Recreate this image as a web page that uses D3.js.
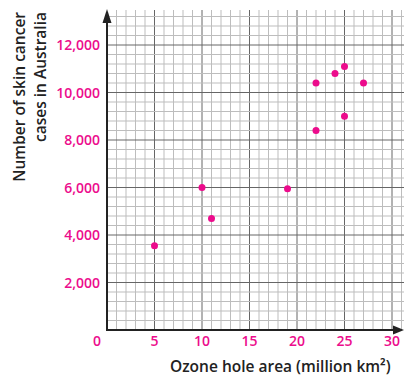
<!DOCTYPE html>
<html><head><meta charset="utf-8">
<script src="https://cdn.jsdelivr.net/npm/d3@7"></script>
<style>
html,body{margin:0;padding:0;background:#fff;}
svg{display:block;font-family:"Open Sans",Lato,sans-serif;}
</style></head>
<body><svg id="c" width="404" height="375"></svg>
<script>
const ozoneArea = [5, 10, 11, 19, 22, 22, 24, 25, 25, 27];
const skinCancer = [3550, 6000, 4700, 5950, 10400, 8400, 10800, 11100, 9000, 10400];
const xTicks = [0, 5, 10, 15, 20, 25, 30];
const yTicks = [2000, 4000, 6000, 8000, 10000, 12000];
const xTitle = "Ozone hole area (million km²)";
const yTitleLines = ["Number of skin cancer", "cases in Australia"];

const svg = d3.select("#c");
const x = d3.scaleLinear().domain([0, 30]).range([107, 392]);
const y = d3.scaleLinear().domain([0, 12000]).range([330, 45]);
const pink = "#ec0c8c";

// grid
const g = svg.append("g");
const vx = d3.range(1, 32);
g.selectAll("line.v").data(vx).join("line")
  .attr("x1", d => x(d)).attr("x2", d => x(d))
  .attr("y1", y(0)).attr("y2", 10)
  .attr("stroke", d => d % 5 === 0 ? "#666" : "#bdbdbd")
  .attr("stroke-width", 1);
const hy = d3.range(400, 13201, 400);
g.selectAll("line.h").data(hy).join("line")
  .attr("y1", d => y(d)).attr("y2", d => y(d))
  .attr("x1", x(0)).attr("x2", 404)
  .attr("stroke", d => d % 2000 === 0 ? "#666" : "#bdbdbd")
  .attr("stroke-width", 1);

// axes
svg.append("line").attr("x1", x(0)).attr("x2", 396).attr("y1", y(0)).attr("y2", y(0))
  .attr("stroke", "#222").attr("stroke-width", 2);
svg.append("path").attr("d", `M404,${y(0)} L393,${y(0)-4.5} L393,${y(0)+4.5} Z`).attr("fill", "#222");
svg.append("line").attr("x1", x(0)).attr("x2", x(0)).attr("y1", y(0)+1).attr("y2", 18)
  .attr("stroke", "#222").attr("stroke-width", 2);
svg.append("path").attr("d", `M${x(0)},9 L${x(0)-4.5},23 L${x(0)+4.5},23 Z`).attr("fill", "#222");

// tick labels
svg.selectAll("text.xt").data(xTicks).join("text")
  .attr("x", d => d === 0 ? 97 : x(d)).attr("y", 346)
  .attr("text-anchor", "middle").attr("fill", pink)
  .attr("font-size", 14).attr("font-weight", 600).text(d => d);
svg.selectAll("text.yt").data(yTicks).join("text")
  .attr("x", 100).attr("y", d => y(d) + 5)
  .attr("text-anchor", "end").attr("fill", pink)
  .attr("font-size", 14).attr("font-weight", 600).text(d => d3.format(",")(d));

// titles
svg.append("text").attr("x", 170).attr("y", 372).attr("fill", "#222")
  .attr("font-size", 15.5).attr("font-weight", 600).text(xTitle);
svg.selectAll("text.yl").data(yTitleLines).join("text")
  .attr("transform", (d, i) => `translate(${25 + i * 21},12) rotate(-90)`)
  .attr("text-anchor", "end").attr("fill", "#222")
  .attr("font-size", 15.5).attr("font-weight", 600).text(d => d);

// points
svg.selectAll("circle").data(ozoneArea).join("circle")
  .attr("cx", d => x(d)).attr("cy", (d, i) => y(skinCancer[i]))
  .attr("r", 3.5).attr("fill", pink);
</script></body></html>
